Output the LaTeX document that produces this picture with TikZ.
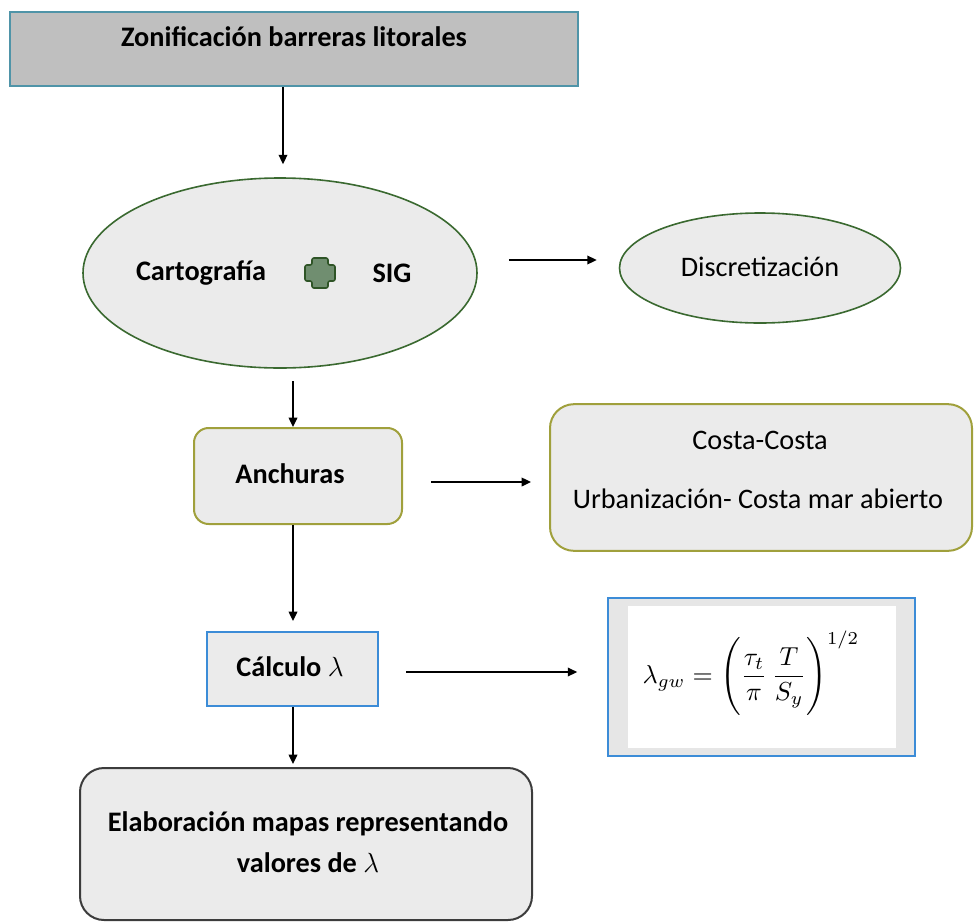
\documentclass[tikz,border=0pt]{standalone}
\usepackage{amsmath}
\usepackage{fontspec}
\setmainfont{Carlito}
\usepackage{tikz}
\usetikzlibrary{shapes.geometric,arrows.meta,calc}
\tikzset{every picture/.style={line width=0.75pt}}
\tikzset{
  arr/.style={line width=1pt,-{Triangle[length=7pt,width=6.5pt]}},
  txt/.style={font=\fontsize{21.2}{25}\selectfont},
  btxt/.style={font=\fontsize{21.2}{25}\selectfont\bfseries}
}
\definecolor{boxgray}{RGB}{235,235,235}
\definecolor{topgray}{RGB}{191,191,191}
\definecolor{topedge}{RGB}{79,148,168}
\definecolor{greenedge}{RGB}{58,105,48}
\definecolor{plusfill}{RGB}{112,142,112}
\definecolor{oliveedge}{RGB}{160,160,60}
\definecolor{blueedge}{RGB}{60,140,215}
\definecolor{darkedge}{RGB}{60,60,60}
\definecolor{formgray}{RGB}{230,230,230}

\begin{document}
\begin{tikzpicture}[x=0.75pt,y=0.75pt,yscale=-1,xscale=1]
\useasboundingbox (0,0) rectangle (974,922);

%Shape: Rectangle [top]
\node (top) [draw=topedge,line width=1.5pt,fill=topgray,minimum width=426pt,minimum height=55.5pt,inner sep=0] at (294,49) {};
%Shape: Ellipse [cartografia]
\node (carto) [ellipse,draw=greenedge,line width=1.2pt,fill=boxgray,minimum width=295.5pt,minimum height=142.5pt,inner sep=0] at (280,273) {};
%Shape: Ellipse [discretizacion]
\node (discr) [ellipse,draw=greenedge,line width=1.2pt,fill=boxgray,minimum width=210.75pt,minimum height=82.5pt,inner sep=0] at (760,268) {};
%Shape: Rounded Rectangle [anchuras]
\node (anch) [draw=oliveedge,line width=1.5pt,fill=boxgray,rounded corners=11pt,minimum width=156pt,minimum height=72pt,inner sep=0] at (298,476) {};
%Shape: Rounded Rectangle [costa]
\node (costa) [draw=oliveedge,line width=1.5pt,fill=boxgray,rounded corners=18pt,minimum width=316.5pt,minimum height=110pt,inner sep=0] at (761,477.5) {};
%Shape: Rectangle [calculo]
\node (calc) [draw=blueedge,line width=1.5pt,fill=boxgray,minimum width=128.25pt,minimum height=55.5pt,inner sep=0] at (292.5,669) {};
%Shape: Rectangle [formula]
\node (form) [draw=blueedge,line width=1.5pt,fill=formgray,minimum width=230pt,minimum height=118.5pt,inner sep=0] at (761.5,677) {};
\fill [white] (628,606) rectangle (896,748);
%Shape: Rounded Rectangle [mapas]
\node (mapas) [draw=darkedge,line width=1.5pt,fill=boxgray,rounded corners=18pt,minimum width=339pt,minimum height=114pt,inner sep=0] at (306,844) {};

%Shape: Cross
\draw [draw=greenedge!80!black,line width=1.2pt,fill=plusfill,rounded corners=1.5pt] (312,258) -- (328,258) -- (328,265) -- (335,265) -- (335,281) -- (328,281) -- (328,288) -- (312,288) -- (312,281) -- (305,281) -- (305,265) -- (312,265) -- cycle ;

%Straight Lines
\draw [arr] (top.south -| 283,0) -- ($(carto.north)+(3,-13)$) ;
\draw [arr] ($(carto.east)+(31,-13)$) -- ($(discr.west)+(-22,-8)$) ;
\draw [arr] ($(anch.north)+(-5,-46)$) -- ($(anch.north)+(-5,0)$) ;
\draw [arr] ($(anch.east)+(28,6)$) -- ($(costa.west)+(-18,4.5)$) ;
\draw [arr] ($(anch.south)+(-5,0)$) -- ($(calc.north)+(0.5,-10)$) ;
\draw [arr] ($(calc.east)+(27,3)$) -- ($(form.west)+(-30,-5)$) ;
\draw [arr] ($(calc.south)+(0.5,0)$) -- ($(mapas.north)+(-13,-3)$) ;

% Text Node
\node (toptxt) [btxt] at (294,37) {Zonificación barreras litorales};
% Text Node
\node (cartotxt) [btxt] at (201,273) {Cartografía};
% Text Node
\node (sigtxt) [btxt] at (392,273) {SIG};
% Text Node
\node (discrtxt) [txt] at (760,267) {Discretización};
% Text Node
\node (anchtxt) [btxt] at (290,474) {Anchuras};
% Text Node
\node (costatxt) [txt] at (760,440) {Costa-Costa};
% Text Node
\node (urbtxt) [txt] at (758,499) {Urbanización- Costa mar abierto};
% Text Node
\node (calctxt) [btxt] at (290,667) {Cálculo $\lambda$};
% Text Node
\node (formtxt) [scale=1.95] at (751,673) {$\displaystyle \lambda_{gw}=\Biggl(\frac{\tau_t}{\pi}\,\frac{T}{S_y}\Biggr)^{1/2}$};
% Text Node
\node (mapastxt) [btxt,align=center] at (308,842) {Elaboración mapas representando\\[6pt] valores de $\lambda$};

\end{tikzpicture}
\end{document}
